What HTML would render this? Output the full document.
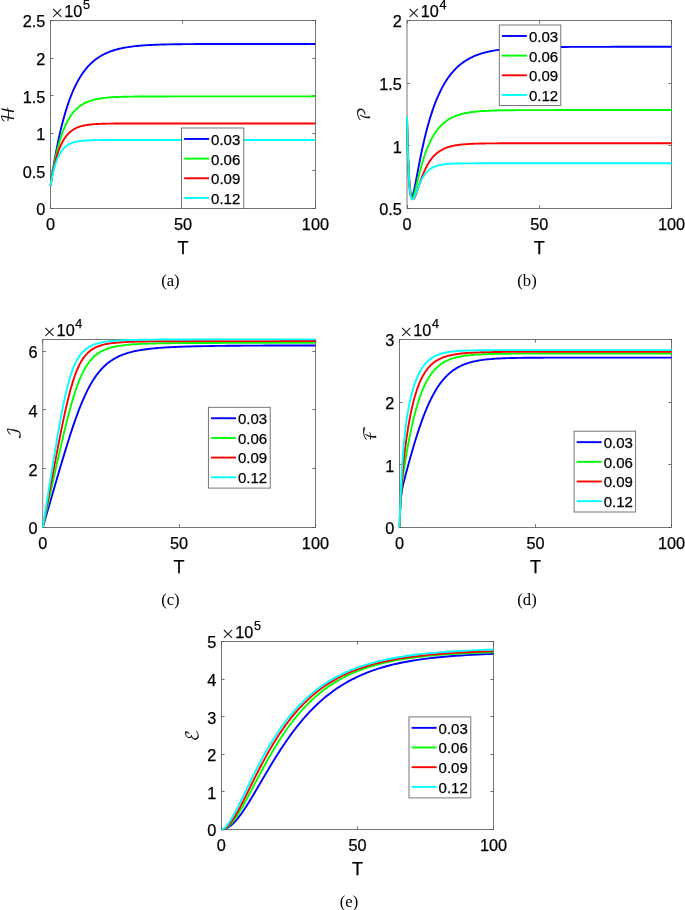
<!DOCTYPE html>
<html><head><meta charset="utf-8"><title>figure</title><style>
html,body{margin:0;padding:0;background:#fff;}
svg{display:block}
.box{fill:none;stroke:#555;stroke-width:0.8}
.tk{fill:none;stroke:#555;stroke-width:0.8}
.cv path{fill:none;stroke-width:1.9;stroke-linejoin:round}
.t{font-family:"Liberation Sans",sans-serif;font-size:16.3px;fill:#000;stroke:#000;stroke-width:0.25px}
.l{font-family:"Liberation Sans",sans-serif;font-size:18px;fill:#000;stroke:#000;stroke-width:0.25px}
.yl{font-family:"DejaVu Math TeX Gyre","DejaVu Sans",serif;font-size:17px;fill:#111}
.cap{font-family:"Liberation Serif",serif;font-size:16.6px;fill:#000}
.lg{fill:#fff;stroke:#686868;stroke-width:0.9}
.lt{font-family:"Liberation Sans",sans-serif;font-size:15px;fill:#000;stroke:#000;stroke-width:0.25px}
.tm{font-family:"Liberation Serif",serif;font-size:22px;fill:#222;stroke:none}
.ll{fill:none;stroke-width:1.9}
</style></head><body>
<svg width="685" height="910" viewBox="0 0 685 910">
<rect width="685" height="910" fill="#fff"/>
<g class="ax" id="ax-a">
<clipPath id="cp-a"><rect x="49.5" y="19.0" width="266.95" height="190.9"/></clipPath>
<rect class="box" x="50.5" y="20.5" width="264.95" height="187.9"/>
<path class="tk" d="M50.5,208.4v-3.2M50.5,20.5v3.2M182.5,208.4v-3.2M182.5,20.5v3.2M315.5,208.4v-3.2M315.5,20.5v3.2M50.5,208.5h3.2M315.45,208.5h-3.2M50.5,170.5h3.2M315.45,170.5h-3.2M50.5,133.5h3.2M315.45,133.5h-3.2M50.5,95.5h3.2M315.45,95.5h-3.2M50.5,58.5h3.2M315.45,58.5h-3.2M50.5,20.5h3.2M315.45,20.5h-3.2"/>
<g clip-path="url(#cp-a)" class="cv">
<path stroke="#0000ff" d="M50.5,185.85 L50.76,184.02 L51.03,182.21 L51.29,180.42 L51.56,178.66 L51.82,176.92 L52.09,175.2 L52.35,173.51 L52.62,171.84 L52.88,170.18 L53.15,168.55 L53.41,166.94 L53.68,165.36 L53.94,163.79 L54.21,162.24 L54.47,160.71 L54.74,159.2 L55,157.72 L55.27,156.25 L55.53,154.8 L55.8,153.36 L56.06,151.95 L56.33,150.56 L56.59,149.18 L56.86,147.82 L57.12,146.48 L57.39,145.15 L57.65,143.85 L57.92,142.56 L58.18,141.28 L58.45,140.03 L58.71,138.78 L58.98,137.56 L59.24,136.35 L59.51,135.16 L59.77,133.98 L60.04,132.82 L60.3,131.67 L60.57,130.54 L60.83,129.42 L61.1,128.31 L61.76,125.62 L62.42,123 L63.09,120.48 L63.75,118.03 L64.41,115.66 L65.07,113.37 L65.73,111.15 L66.4,109 L67.06,106.92 L67.72,104.91 L68.38,102.96 L69.05,101.07 L69.71,99.24 L70.37,97.47 L71.03,95.76 L71.7,94.11 L72.36,92.5 L73.02,90.95 L73.68,89.45 L74.35,87.99 L75.01,86.58 L75.67,85.22 L76.33,83.9 L77,82.62 L77.66,81.39 L78.32,80.19 L78.98,79.03 L79.64,77.91 L80.31,76.82 L80.97,75.77 L81.63,74.75 L82.29,73.77 L82.96,72.82 L83.62,71.89 L84.28,71 L84.94,70.13 L85.61,69.3 L86.27,68.49 L86.93,67.7 L87.59,66.94 L88.26,66.21 L88.92,65.49 L89.58,64.81 L90.24,64.14 L90.9,63.49 L91.57,62.87 L92.23,62.26 L92.89,61.68 L93.55,61.11 L94.22,60.56 L94.88,60.03 L95.54,59.52 L96.2,59.02 L96.87,58.54 L97.53,58.07 L98.19,57.62 L98.85,57.18 L99.52,56.76 L100.18,56.35 L100.84,55.95 L101.5,55.57 L102.17,55.2 L102.83,54.84 L103.49,54.49 L105.26,53.61 L107.02,52.81 L108.79,52.08 L110.56,51.4 L112.32,50.78 L114.09,50.22 L115.85,49.7 L117.62,49.22 L119.39,48.78 L121.15,48.38 L122.92,48.01 L124.69,47.68 L126.45,47.37 L128.22,47.08 L129.99,46.82 L131.75,46.58 L133.52,46.37 L135.28,46.16 L137.05,45.98 L138.82,45.81 L140.58,45.66 L142.35,45.52 L144.12,45.39 L145.88,45.27 L147.65,45.16 L149.41,45.06 L151.18,44.97 L152.95,44.88 L154.71,44.8 L156.48,44.73 L158.25,44.67 L160.01,44.61 L161.78,44.55 L163.55,44.5 L165.31,44.46 L167.08,44.42 L168.84,44.38 L170.61,44.34 L172.38,44.31 L174.14,44.28 L175.91,44.25 L177.68,44.23 L179.44,44.2 L181.21,44.18 L182.97,44.16 L184.74,44.15 L186.51,44.13 L188.27,44.11 L190.04,44.1 L191.81,44.09 L193.57,44.08 L195.34,44.07 L197.11,44.06 L198.87,44.05 L200.64,44.04 L202.4,44.03 L204.17,44.03 L205.94,44.02 L207.7,44.01 L209.47,44.01 L214.77,43.99 L220.07,43.98 L225.37,43.98 L230.67,43.97 L235.97,43.97 L241.26,43.96 L246.56,43.96 L251.86,43.96 L257.16,43.96 L262.46,43.95 L267.76,43.95 L273.06,43.95 L278.36,43.95 L283.66,43.95 L288.96,43.95 L294.25,43.95 L299.55,43.95 L304.85,43.95 L310.15,43.95 L315.45,43.95"/>
<path stroke="#00ff00" d="M50.5,185.85 L50.76,184.08 L51.03,182.34 L51.29,180.64 L51.56,178.98 L51.82,177.34 L52.09,175.74 L52.35,174.17 L52.62,172.63 L52.88,171.12 L53.15,169.64 L53.41,168.19 L53.68,166.77 L53.94,165.37 L54.21,164.01 L54.47,162.67 L54.74,161.36 L55,160.07 L55.27,158.81 L55.53,157.58 L55.8,156.37 L56.06,155.18 L56.33,154.01 L56.59,152.87 L56.86,151.76 L57.12,150.66 L57.39,149.59 L57.65,148.53 L57.92,147.5 L58.18,146.49 L58.45,145.5 L58.71,144.53 L58.98,143.57 L59.24,142.64 L59.51,141.72 L59.77,140.83 L60.04,139.95 L60.3,139.08 L60.57,138.24 L60.83,137.41 L61.1,136.6 L61.76,134.64 L62.42,132.78 L63.09,131 L63.75,129.31 L64.41,127.71 L65.07,126.18 L65.73,124.73 L66.4,123.35 L67.06,122.04 L67.72,120.79 L68.38,119.6 L69.05,118.47 L69.71,117.39 L70.37,116.37 L71.03,115.4 L71.7,114.47 L72.36,113.59 L73.02,112.75 L73.68,111.95 L74.35,111.2 L75.01,110.47 L75.67,109.79 L76.33,109.14 L77,108.52 L77.66,107.93 L78.32,107.36 L78.98,106.83 L79.64,106.32 L80.31,105.84 L80.97,105.38 L81.63,104.94 L82.29,104.53 L82.96,104.13 L83.62,103.75 L84.28,103.4 L84.94,103.05 L85.61,102.73 L86.27,102.42 L86.93,102.13 L87.59,101.85 L88.26,101.59 L88.92,101.33 L89.58,101.09 L90.24,100.86 L90.9,100.65 L91.57,100.44 L92.23,100.24 L92.89,100.06 L93.55,99.88 L94.22,99.71 L94.88,99.55 L95.54,99.4 L96.2,99.25 L96.87,99.11 L97.53,98.98 L98.19,98.86 L98.85,98.74 L99.52,98.62 L100.18,98.52 L100.84,98.41 L101.5,98.31 L102.17,98.22 L102.83,98.13 L103.49,98.05 L105.26,97.85 L107.02,97.67 L108.79,97.51 L110.56,97.37 L112.32,97.25 L114.09,97.15 L115.85,97.06 L117.62,96.98 L119.39,96.91 L121.15,96.84 L122.92,96.79 L124.69,96.74 L126.45,96.7 L128.22,96.66 L129.99,96.63 L131.75,96.61 L133.52,96.58 L135.28,96.56 L137.05,96.54 L138.82,96.53 L140.58,96.51 L142.35,96.5 L144.12,96.49 L145.88,96.48 L147.65,96.47 L149.41,96.46 L151.18,96.46 L152.95,96.45 L154.71,96.45 L156.48,96.44 L158.25,96.44 L160.01,96.43 L161.78,96.43 L163.55,96.43 L165.31,96.43 L167.08,96.43 L168.84,96.42 L170.61,96.42 L172.38,96.42 L174.14,96.42 L175.91,96.42 L177.68,96.42 L179.44,96.42 L181.21,96.42 L182.97,96.42 L184.74,96.42 L186.51,96.41 L188.27,96.41 L190.04,96.41 L191.81,96.41 L193.57,96.41 L195.34,96.41 L197.11,96.41 L198.87,96.41 L200.64,96.41 L202.4,96.41 L204.17,96.41 L205.94,96.41 L207.7,96.41 L209.47,96.41 L214.77,96.41 L220.07,96.41 L225.37,96.41 L230.67,96.41 L235.97,96.41 L241.26,96.41 L246.56,96.41 L251.86,96.41 L257.16,96.41 L262.46,96.41 L267.76,96.41 L273.06,96.41 L278.36,96.41 L283.66,96.41 L288.96,96.41 L294.25,96.41 L299.55,96.41 L304.85,96.41 L310.15,96.41 L315.45,96.41"/>
<path stroke="#ff0000" d="M50.5,185.85 L50.76,184.19 L51.03,182.57 L51.29,181 L51.56,179.47 L51.82,177.97 L52.09,176.52 L52.35,175.11 L52.62,173.73 L52.88,172.39 L53.15,171.09 L53.41,169.82 L53.68,168.59 L53.94,167.39 L54.21,166.22 L54.47,165.08 L54.74,163.97 L55,162.89 L55.27,161.84 L55.53,160.82 L55.8,159.82 L56.06,158.85 L56.33,157.91 L56.59,156.99 L56.86,156.1 L57.12,155.23 L57.39,154.39 L57.65,153.56 L57.92,152.76 L58.18,151.98 L58.45,151.22 L58.71,150.48 L58.98,149.76 L59.24,149.06 L59.51,148.38 L59.77,147.72 L60.04,147.07 L60.3,146.44 L60.57,145.83 L60.83,145.23 L61.1,144.65 L61.76,143.27 L62.42,141.98 L63.09,140.77 L63.75,139.64 L64.41,138.59 L65.07,137.6 L65.73,136.68 L66.4,135.81 L67.06,135.01 L67.72,134.26 L68.38,133.55 L69.05,132.89 L69.71,132.28 L70.37,131.7 L71.03,131.17 L71.7,130.66 L72.36,130.19 L73.02,129.75 L73.68,129.34 L74.35,128.96 L75.01,128.6 L75.67,128.27 L76.33,127.95 L77,127.66 L77.66,127.39 L78.32,127.13 L78.98,126.89 L79.64,126.67 L80.31,126.46 L80.97,126.27 L81.63,126.08 L82.29,125.91 L82.96,125.75 L83.62,125.6 L84.28,125.46 L84.94,125.33 L85.61,125.21 L86.27,125.1 L86.93,124.99 L87.59,124.89 L88.26,124.8 L88.92,124.71 L89.58,124.63 L90.24,124.56 L90.9,124.49 L91.57,124.42 L92.23,124.36 L92.89,124.3 L93.55,124.24 L94.22,124.19 L94.88,124.15 L95.54,124.1 L96.2,124.06 L96.87,124.02 L97.53,123.99 L98.19,123.95 L98.85,123.92 L99.52,123.89 L100.18,123.86 L100.84,123.84 L101.5,123.81 L102.17,123.79 L102.83,123.77 L103.49,123.75 L105.26,123.7 L107.02,123.67 L108.79,123.63 L110.56,123.61 L112.32,123.58 L114.09,123.56 L115.85,123.55 L117.62,123.54 L119.39,123.52 L121.15,123.52 L122.92,123.51 L124.69,123.5 L126.45,123.5 L128.22,123.49 L129.99,123.49 L131.75,123.49 L133.52,123.48 L135.28,123.48 L137.05,123.48 L138.82,123.48 L140.58,123.48 L142.35,123.47 L144.12,123.47 L145.88,123.47 L147.65,123.47 L149.41,123.47 L151.18,123.47 L152.95,123.47 L154.71,123.47 L156.48,123.47 L158.25,123.47 L160.01,123.47 L161.78,123.47 L163.55,123.47 L165.31,123.47 L167.08,123.47 L168.84,123.47 L170.61,123.47 L172.38,123.47 L174.14,123.47 L175.91,123.47 L177.68,123.47 L179.44,123.47 L181.21,123.47 L182.97,123.47 L184.74,123.47 L186.51,123.47 L188.27,123.47 L190.04,123.47 L191.81,123.47 L193.57,123.47 L195.34,123.47 L197.11,123.47 L198.87,123.47 L200.64,123.47 L202.4,123.47 L204.17,123.47 L205.94,123.47 L207.7,123.47 L209.47,123.47 L214.77,123.47 L220.07,123.47 L225.37,123.47 L230.67,123.47 L235.97,123.47 L241.26,123.47 L246.56,123.47 L251.86,123.47 L257.16,123.47 L262.46,123.47 L267.76,123.47 L273.06,123.47 L278.36,123.47 L283.66,123.47 L288.96,123.47 L294.25,123.47 L299.55,123.47 L304.85,123.47 L310.15,123.47 L315.45,123.47"/>
<path stroke="#00ffff" d="M50.5,185.85 L50.76,184.32 L51.03,182.84 L51.29,181.41 L51.56,180.02 L51.82,178.68 L52.09,177.39 L52.35,176.14 L52.62,174.93 L52.88,173.77 L53.15,172.64 L53.41,171.55 L53.68,170.49 L53.94,169.47 L54.21,168.49 L54.47,167.54 L54.74,166.62 L55,165.73 L55.27,164.87 L55.53,164.03 L55.8,163.23 L56.06,162.46 L56.33,161.7 L56.59,160.98 L56.86,160.28 L57.12,159.6 L57.39,158.95 L57.65,158.31 L57.92,157.7 L58.18,157.11 L58.45,156.54 L58.71,155.98 L58.98,155.45 L59.24,154.93 L59.51,154.43 L59.77,153.95 L60.04,153.49 L60.3,153.04 L60.57,152.6 L60.83,152.18 L61.1,151.77 L61.76,150.81 L62.42,149.93 L63.09,149.12 L63.75,148.38 L64.41,147.7 L65.07,147.07 L65.73,146.49 L66.4,145.97 L67.06,145.48 L67.72,145.03 L68.38,144.62 L69.05,144.25 L69.71,143.9 L70.37,143.58 L71.03,143.29 L71.7,143.02 L72.36,142.78 L73.02,142.55 L73.68,142.34 L74.35,142.15 L75.01,141.98 L75.67,141.82 L76.33,141.67 L77,141.53 L77.66,141.41 L78.32,141.3 L78.98,141.19 L79.64,141.09 L80.31,141 L80.97,140.92 L81.63,140.85 L82.29,140.78 L82.96,140.72 L83.62,140.66 L84.28,140.61 L84.94,140.56 L85.61,140.51 L86.27,140.47 L86.93,140.43 L87.59,140.4 L88.26,140.37 L88.92,140.34 L89.58,140.31 L90.24,140.28 L90.9,140.26 L91.57,140.24 L92.23,140.22 L92.89,140.2 L93.55,140.19 L94.22,140.17 L94.88,140.16 L95.54,140.15 L96.2,140.13 L96.87,140.12 L97.53,140.11 L98.19,140.11 L98.85,140.1 L99.52,140.09 L100.18,140.08 L100.84,140.08 L101.5,140.07 L102.17,140.06 L102.83,140.06 L103.49,140.06 L105.26,140.05 L107.02,140.04 L108.79,140.03 L110.56,140.03 L112.32,140.02 L114.09,140.02 L115.85,140.01 L117.62,140.01 L119.39,140.01 L121.15,140.01 L122.92,140.01 L124.69,140.01 L126.45,140.01 L128.22,140.01 L129.99,140.01 L131.75,140.01 L133.52,140.01 L135.28,140.01 L137.05,140.01 L138.82,140 L140.58,140 L142.35,140 L144.12,140 L145.88,140 L147.65,140 L149.41,140 L151.18,140 L152.95,140 L154.71,140 L156.48,140 L158.25,140 L160.01,140 L161.78,140 L163.55,140 L165.31,140 L167.08,140 L168.84,140 L170.61,140 L172.38,140 L174.14,140 L175.91,140 L177.68,140 L179.44,140 L181.21,140 L182.97,140 L184.74,140 L186.51,140 L188.27,140 L190.04,140 L191.81,140 L193.57,140 L195.34,140 L197.11,140 L198.87,140 L200.64,140 L202.4,140 L204.17,140 L205.94,140 L207.7,140 L209.47,140 L214.77,140 L220.07,140 L225.37,140 L230.67,140 L235.97,140 L241.26,140 L246.56,140 L251.86,140 L257.16,140 L262.46,140 L267.76,140 L273.06,140 L278.36,140 L283.66,140 L288.96,140 L294.25,140 L299.55,140 L304.85,140 L310.15,140 L315.45,140"/>
</g>
<text class="t" x="50.5" y="230.2" text-anchor="middle">0</text>
<text class="t" x="182.97" y="230.2" text-anchor="middle">50</text>
<text class="t" x="315.45" y="230.2" text-anchor="middle">100</text>
<text class="t" x="45.3" y="215.3" text-anchor="end">0</text>
<text class="t" x="45.3" y="177.72" text-anchor="end">0.5</text>
<text class="t" x="45.3" y="140.14" text-anchor="end">1</text>
<text class="t" x="45.3" y="102.56" text-anchor="end">1.5</text>
<text class="t" x="45.3" y="64.98" text-anchor="end">2</text>
<text class="t" x="45.3" y="27.4" text-anchor="end">2.5</text>
<text class="t" y="17.2"><tspan class="tm" x="50.9" dy="2.6">×</tspan><tspan x="64.3" dy="-2.6">10</tspan><tspan x="83" dy="-8.6" font-size="12.6">5</tspan></text>
<text class="l" x="182.97" y="254" text-anchor="middle">T</text>
<text class="yl" transform="translate(13.7,114.45) rotate(-90)" text-anchor="middle">ℋ</text>
<rect class="lg" x="181.5" y="128" width="62.3" height="80.5"/>
<path class="ll" stroke="#0000ff" d="M184.1,138.95h25"/>
<text class="lt" x="211.1" y="144.85">0.03</text>
<path class="ll" stroke="#00ff00" d="M184.1,158.62h25"/>
<text class="lt" x="211.1" y="164.52">0.06</text>
<path class="ll" stroke="#ff0000" d="M184.1,178.29h25"/>
<text class="lt" x="211.1" y="184.19">0.09</text>
<path class="ll" stroke="#00ffff" d="M184.1,197.96h25"/>
<text class="lt" x="211.1" y="203.86">0.12</text>
<text class="cap" x="170.4" y="286.2" text-anchor="middle">(a)</text>
</g>
<g class="ax" id="ax-b">
<clipPath id="cp-b"><rect x="406.0" y="19.0" width="266.54999999999995" height="190.9"/></clipPath>
<rect class="box" x="407.0" y="20.5" width="264.54999999999995" height="187.9"/>
<path class="tk" d="M407.5,208.4v-3.2M407.5,20.5v3.2M539.5,208.4v-3.2M539.5,20.5v3.2M671.5,208.4v-3.2M671.5,20.5v3.2M407.0,208.5h3.2M671.55,208.5h-3.2M407.0,145.5h3.2M671.55,145.5h-3.2M407.0,83.5h3.2M671.55,83.5h-3.2M407.0,20.5h3.2M671.55,20.5h-3.2"/>
<g clip-path="url(#cp-b)" class="cv">
<path stroke="#0000ff" d="M407,116.96 L407.26,129.91 L407.53,141.15 L407.79,150.85 L408.06,159.2 L408.32,166.36 L408.59,172.47 L408.85,177.64 L409.12,181.99 L409.38,185.61 L409.65,188.59 L409.91,191 L410.17,192.92 L410.44,194.39 L410.7,195.48 L410.97,196.23 L411.23,196.68 L411.5,196.87 L411.76,196.82 L412.03,196.58 L412.29,196.16 L412.56,195.59 L412.82,194.88 L413.08,194.06 L413.35,193.14 L413.61,192.13 L413.88,191.04 L414.14,189.9 L414.41,188.69 L414.67,187.45 L414.94,186.16 L415.2,184.84 L415.47,183.5 L415.73,182.14 L415.99,180.75 L416.26,179.36 L416.52,177.96 L416.79,176.55 L417.05,175.14 L417.32,173.72 L417.58,172.31 L418.24,168.8 L418.9,165.33 L419.57,161.91 L420.23,158.56 L420.89,155.28 L421.55,152.08 L422.21,148.97 L422.87,145.93 L423.53,142.98 L424.2,140.11 L424.86,137.33 L425.52,134.62 L426.18,132 L426.84,129.45 L427.5,126.97 L428.16,124.57 L428.83,122.24 L429.49,119.98 L430.15,117.79 L430.81,115.66 L431.47,113.59 L432.13,111.59 L432.79,109.65 L433.45,107.76 L434.12,105.94 L434.78,104.16 L435.44,102.44 L436.1,100.77 L436.76,99.15 L437.42,97.58 L438.08,96.06 L438.75,94.58 L439.41,93.15 L440.07,91.76 L440.73,90.41 L441.39,89.11 L442.05,87.84 L442.71,86.61 L443.38,85.41 L444.04,84.26 L444.7,83.13 L445.36,82.04 L446.02,80.99 L446.68,79.96 L447.34,78.97 L448.01,78 L448.67,77.07 L449.33,76.16 L449.99,75.28 L450.65,74.42 L451.31,73.6 L451.97,72.79 L452.63,72.01 L453.3,71.26 L453.96,70.52 L454.62,69.81 L455.28,69.12 L455.94,68.45 L456.6,67.8 L457.26,67.17 L457.93,66.56 L458.59,65.97 L459.25,65.4 L459.91,64.84 L461.67,63.43 L463.44,62.14 L465.2,60.94 L466.96,59.84 L468.73,58.82 L470.49,57.88 L472.26,57.02 L474.02,56.22 L475.78,55.49 L477.55,54.81 L479.31,54.19 L481.07,53.61 L482.84,53.08 L484.6,52.59 L486.37,52.14 L488.13,51.72 L489.89,51.34 L491.66,50.99 L493.42,50.66 L495.18,50.36 L496.95,50.08 L498.71,49.83 L500.47,49.59 L502.24,49.37 L504,49.17 L505.77,48.99 L507.53,48.82 L509.29,48.66 L511.06,48.52 L512.82,48.38 L514.58,48.26 L516.35,48.15 L518.11,48.04 L519.87,47.95 L521.64,47.86 L523.4,47.78 L525.17,47.7 L526.93,47.63 L528.69,47.57 L530.46,47.51 L532.22,47.45 L533.98,47.4 L535.75,47.36 L537.51,47.31 L539.27,47.27 L541.04,47.24 L542.8,47.2 L544.57,47.17 L546.33,47.14 L548.09,47.12 L549.86,47.09 L551.62,47.07 L553.38,47.05 L555.15,47.03 L556.91,47.01 L558.68,47 L560.44,46.98 L562.2,46.97 L563.97,46.96 L565.73,46.94 L571.02,46.91 L576.31,46.89 L581.6,46.87 L586.89,46.86 L592.18,46.85 L597.48,46.84 L602.77,46.83 L608.06,46.83 L613.35,46.82 L618.64,46.82 L623.93,46.82 L629.22,46.81 L634.51,46.81 L639.8,46.81 L645.1,46.81 L650.39,46.81 L655.68,46.81 L660.97,46.81 L666.26,46.81 L671.55,46.81"/>
<path stroke="#00ff00" d="M407,116.96 L407.26,129.2 L407.53,139.92 L407.79,149.27 L408.06,157.4 L408.32,164.46 L408.59,170.55 L408.85,175.78 L409.12,180.26 L409.38,184.06 L409.65,187.26 L409.91,189.92 L410.17,192.11 L410.44,193.89 L410.7,195.29 L410.97,196.36 L411.23,197.15 L411.5,197.67 L411.76,197.97 L412.03,198.08 L412.29,198 L412.56,197.78 L412.82,197.42 L413.08,196.94 L413.35,196.36 L413.61,195.7 L413.88,194.95 L414.14,194.14 L414.41,193.28 L414.67,192.36 L414.94,191.41 L415.2,190.42 L415.47,189.41 L415.73,188.37 L415.99,187.32 L416.26,186.25 L416.52,185.17 L416.79,184.09 L417.05,183 L417.32,181.91 L417.58,180.82 L418.24,178.11 L418.9,175.44 L419.57,172.83 L420.23,170.29 L420.89,167.82 L421.55,165.44 L422.21,163.13 L422.87,160.91 L423.53,158.78 L424.2,156.73 L424.86,154.76 L425.52,152.87 L426.18,151.05 L426.84,149.31 L427.5,147.65 L428.16,146.05 L428.83,144.52 L429.49,143.05 L430.15,141.65 L430.81,140.31 L431.47,139.02 L432.13,137.78 L432.79,136.6 L433.45,135.47 L434.12,134.39 L434.78,133.36 L435.44,132.36 L436.1,131.41 L436.76,130.5 L437.42,129.63 L438.08,128.8 L438.75,128 L439.41,127.24 L440.07,126.5 L440.73,125.8 L441.39,125.13 L442.05,124.49 L442.71,123.88 L443.38,123.29 L444.04,122.72 L444.7,122.18 L445.36,121.67 L446.02,121.17 L446.68,120.7 L447.34,120.25 L448.01,119.81 L448.67,119.4 L449.33,119 L449.99,118.62 L450.65,118.26 L451.31,117.91 L451.97,117.57 L452.63,117.25 L453.3,116.95 L453.96,116.65 L454.62,116.37 L455.28,116.1 L455.94,115.85 L456.6,115.6 L457.26,115.36 L457.93,115.14 L458.59,114.92 L459.25,114.71 L459.91,114.52 L461.67,114.03 L463.44,113.59 L465.2,113.21 L466.96,112.86 L468.73,112.56 L470.49,112.28 L472.26,112.04 L474.02,111.82 L475.78,111.63 L477.55,111.46 L479.31,111.31 L481.07,111.17 L482.84,111.05 L484.6,110.94 L486.37,110.85 L488.13,110.76 L489.89,110.68 L491.66,110.62 L493.42,110.56 L495.18,110.5 L496.95,110.45 L498.71,110.41 L500.47,110.37 L502.24,110.34 L504,110.31 L505.77,110.28 L507.53,110.26 L509.29,110.24 L511.06,110.22 L512.82,110.2 L514.58,110.19 L516.35,110.17 L518.11,110.16 L519.87,110.15 L521.64,110.14 L523.4,110.13 L525.17,110.13 L526.93,110.12 L528.69,110.11 L530.46,110.11 L532.22,110.1 L533.98,110.1 L535.75,110.1 L537.51,110.09 L539.27,110.09 L541.04,110.09 L542.8,110.08 L544.57,110.08 L546.33,110.08 L548.09,110.08 L549.86,110.08 L551.62,110.08 L553.38,110.08 L555.15,110.07 L556.91,110.07 L558.68,110.07 L560.44,110.07 L562.2,110.07 L563.97,110.07 L565.73,110.07 L571.02,110.07 L576.31,110.07 L581.6,110.07 L586.89,110.07 L592.18,110.07 L597.48,110.07 L602.77,110.07 L608.06,110.07 L613.35,110.07 L618.64,110.07 L623.93,110.07 L629.22,110.07 L634.51,110.07 L639.8,110.07 L645.1,110.07 L650.39,110.07 L655.68,110.07 L660.97,110.07 L666.26,110.07 L671.55,110.07"/>
<path stroke="#ff0000" d="M407,116.96 L407.26,127.73 L407.53,137.33 L407.79,145.87 L408.06,153.46 L408.32,160.17 L408.59,166.1 L408.85,171.32 L409.12,175.91 L409.38,179.91 L409.65,183.4 L409.91,186.41 L410.17,189 L410.44,191.21 L410.7,193.08 L410.97,194.64 L411.23,195.92 L411.5,196.96 L411.76,197.77 L412.03,198.38 L412.29,198.81 L412.56,199.09 L412.82,199.22 L413.08,199.22 L413.35,199.11 L413.61,198.91 L413.88,198.61 L414.14,198.24 L414.41,197.8 L414.67,197.29 L414.94,196.74 L415.2,196.14 L415.47,195.51 L415.73,194.83 L415.99,194.14 L416.26,193.41 L416.52,192.67 L416.79,191.91 L417.05,191.14 L417.32,190.36 L417.58,189.58 L418.24,187.59 L418.9,185.61 L419.57,183.65 L420.23,181.73 L420.89,179.86 L421.55,178.05 L422.21,176.3 L422.87,174.63 L423.53,173.02 L424.2,171.49 L424.86,170.02 L425.52,168.63 L426.18,167.3 L426.84,166.03 L427.5,164.83 L428.16,163.69 L428.83,162.61 L429.49,161.58 L430.15,160.61 L430.81,159.69 L431.47,158.81 L432.13,157.99 L432.79,157.2 L433.45,156.46 L434.12,155.75 L434.78,155.09 L435.44,154.46 L436.1,153.86 L436.76,153.29 L437.42,152.76 L438.08,152.25 L438.75,151.77 L439.41,151.31 L440.07,150.88 L440.73,150.48 L441.39,150.09 L442.05,149.73 L442.71,149.38 L443.38,149.05 L444.04,148.74 L444.7,148.45 L445.36,148.17 L446.02,147.91 L446.68,147.66 L447.34,147.43 L448.01,147.2 L448.67,146.99 L449.33,146.79 L449.99,146.6 L450.65,146.43 L451.31,146.26 L451.97,146.1 L452.63,145.94 L453.3,145.8 L453.96,145.67 L454.62,145.54 L455.28,145.42 L455.94,145.3 L456.6,145.19 L457.26,145.09 L457.93,144.99 L458.59,144.9 L459.25,144.81 L459.91,144.73 L461.67,144.53 L463.44,144.36 L465.2,144.21 L466.96,144.08 L468.73,143.97 L470.49,143.87 L472.26,143.79 L474.02,143.72 L475.78,143.65 L477.55,143.6 L479.31,143.55 L481.07,143.51 L482.84,143.48 L484.6,143.45 L486.37,143.42 L488.13,143.4 L489.89,143.38 L491.66,143.37 L493.42,143.35 L495.18,143.34 L496.95,143.33 L498.71,143.32 L500.47,143.31 L502.24,143.3 L504,143.3 L505.77,143.29 L507.53,143.29 L509.29,143.29 L511.06,143.28 L512.82,143.28 L514.58,143.28 L516.35,143.27 L518.11,143.27 L519.87,143.27 L521.64,143.27 L523.4,143.27 L525.17,143.27 L526.93,143.27 L528.69,143.27 L530.46,143.27 L532.22,143.26 L533.98,143.26 L535.75,143.26 L537.51,143.26 L539.27,143.26 L541.04,143.26 L542.8,143.26 L544.57,143.26 L546.33,143.26 L548.09,143.26 L549.86,143.26 L551.62,143.26 L553.38,143.26 L555.15,143.26 L556.91,143.26 L558.68,143.26 L560.44,143.26 L562.2,143.26 L563.97,143.26 L565.73,143.26 L571.02,143.26 L576.31,143.26 L581.6,143.26 L586.89,143.26 L592.18,143.26 L597.48,143.26 L602.77,143.26 L608.06,143.26 L613.35,143.26 L618.64,143.26 L623.93,143.26 L629.22,143.26 L634.51,143.26 L639.8,143.26 L645.1,143.26 L650.39,143.26 L655.68,143.26 L660.97,143.26 L666.26,143.26 L671.55,143.26"/>
<path stroke="#00ffff" d="M407,116.96 L407.26,128.83 L407.53,139.26 L407.79,148.41 L408.06,156.41 L408.32,163.39 L408.59,169.46 L408.85,174.71 L409.12,179.24 L409.38,183.13 L409.65,186.44 L409.91,189.25 L410.17,191.6 L410.44,193.55 L410.7,195.14 L410.97,196.43 L411.23,197.43 L411.5,198.2 L411.76,198.74 L412.03,199.1 L412.29,199.3 L412.56,199.35 L412.82,199.27 L413.08,199.09 L413.35,198.81 L413.61,198.46 L413.88,198.03 L414.14,197.54 L414.41,197.01 L414.67,196.43 L414.94,195.82 L415.2,195.18 L415.47,194.53 L415.73,193.85 L415.99,193.16 L416.26,192.47 L416.52,191.76 L416.79,191.06 L417.05,190.36 L417.32,189.66 L417.58,188.96 L418.24,187.25 L418.9,185.6 L419.57,184.03 L420.23,182.53 L420.89,181.12 L421.55,179.8 L422.21,178.56 L422.87,177.4 L423.53,176.32 L424.2,175.32 L424.86,174.39 L425.52,173.53 L426.18,172.73 L426.84,172 L427.5,171.32 L428.16,170.69 L428.83,170.11 L429.49,169.57 L430.15,169.08 L430.81,168.62 L431.47,168.21 L432.13,167.82 L432.79,167.46 L433.45,167.13 L434.12,166.83 L434.78,166.55 L435.44,166.3 L436.1,166.06 L436.76,165.84 L437.42,165.64 L438.08,165.46 L438.75,165.29 L439.41,165.13 L440.07,164.98 L440.73,164.85 L441.39,164.73 L442.05,164.62 L442.71,164.51 L443.38,164.42 L444.04,164.33 L444.7,164.25 L445.36,164.17 L446.02,164.1 L446.68,164.04 L447.34,163.98 L448.01,163.93 L448.67,163.88 L449.33,163.83 L449.99,163.79 L450.65,163.75 L451.31,163.72 L451.97,163.69 L452.63,163.65 L453.3,163.63 L453.96,163.6 L454.62,163.58 L455.28,163.56 L455.94,163.54 L456.6,163.52 L457.26,163.5 L457.93,163.49 L458.59,163.47 L459.25,163.46 L459.91,163.45 L461.67,163.42 L463.44,163.4 L465.2,163.38 L466.96,163.36 L468.73,163.35 L470.49,163.34 L472.26,163.33 L474.02,163.33 L475.78,163.32 L477.55,163.32 L479.31,163.32 L481.07,163.31 L482.84,163.31 L484.6,163.31 L486.37,163.31 L488.13,163.31 L489.89,163.31 L491.66,163.31 L493.42,163.31 L495.18,163.31 L496.95,163.31 L498.71,163.31 L500.47,163.3 L502.24,163.3 L504,163.3 L505.77,163.3 L507.53,163.3 L509.29,163.3 L511.06,163.3 L512.82,163.3 L514.58,163.3 L516.35,163.3 L518.11,163.3 L519.87,163.3 L521.64,163.3 L523.4,163.3 L525.17,163.3 L526.93,163.3 L528.69,163.3 L530.46,163.3 L532.22,163.3 L533.98,163.3 L535.75,163.3 L537.51,163.3 L539.27,163.3 L541.04,163.3 L542.8,163.3 L544.57,163.3 L546.33,163.3 L548.09,163.3 L549.86,163.3 L551.62,163.3 L553.38,163.3 L555.15,163.3 L556.91,163.3 L558.68,163.3 L560.44,163.3 L562.2,163.3 L563.97,163.3 L565.73,163.3 L571.02,163.3 L576.31,163.3 L581.6,163.3 L586.89,163.3 L592.18,163.3 L597.48,163.3 L602.77,163.3 L608.06,163.3 L613.35,163.3 L618.64,163.3 L623.93,163.3 L629.22,163.3 L634.51,163.3 L639.8,163.3 L645.1,163.3 L650.39,163.3 L655.68,163.3 L660.97,163.3 L666.26,163.3 L671.55,163.3"/>
</g>
<text class="t" x="407" y="230.2" text-anchor="middle">0</text>
<text class="t" x="539.27" y="230.2" text-anchor="middle">50</text>
<text class="t" x="671.55" y="230.2" text-anchor="middle">100</text>
<text class="t" x="401.8" y="215.3" text-anchor="end">0.5</text>
<text class="t" x="401.8" y="152.67" text-anchor="end">1</text>
<text class="t" x="401.8" y="90.03" text-anchor="end">1.5</text>
<text class="t" x="401.8" y="27.4" text-anchor="end">2</text>
<text class="t" y="17.2"><tspan class="tm" x="407.4" dy="2.6">×</tspan><tspan x="420.8" dy="-2.6">10</tspan><tspan x="439.5" dy="-8.6" font-size="12.6">4</tspan></text>
<text class="l" x="539.27" y="254" text-anchor="middle">T</text>
<text class="yl" transform="translate(370,114.45) rotate(-90)" text-anchor="middle">𝒫</text>
<rect class="lg" x="499.3" y="25" width="61.5" height="80.5"/>
<path class="ll" stroke="#0000ff" d="M501.9,35.95h25"/>
<text class="lt" x="528.9" y="41.85">0.03</text>
<path class="ll" stroke="#00ff00" d="M501.9,55.62h25"/>
<text class="lt" x="528.9" y="61.52">0.06</text>
<path class="ll" stroke="#ff0000" d="M501.9,75.29h25"/>
<text class="lt" x="528.9" y="81.19">0.09</text>
<path class="ll" stroke="#00ffff" d="M501.9,94.96h25"/>
<text class="lt" x="528.9" y="100.86">0.12</text>
<text class="cap" x="527" y="286.2" text-anchor="middle">(b)</text>
</g>
<g class="ax" id="ax-c">
<clipPath id="cp-c"><rect x="41.8" y="337.95" width="274.65" height="190.95"/></clipPath>
<rect class="box" x="42.8" y="339.45" width="272.65" height="187.95"/>
<path class="tk" d="M42.5,527.4v-3.2M42.5,339.45v3.2M179.5,527.4v-3.2M179.5,339.45v3.2M315.5,527.4v-3.2M315.5,339.45v3.2M42.8,527.5h3.2M315.45,527.5h-3.2M42.8,468.5h3.2M315.45,468.5h-3.2M42.8,409.5h3.2M315.45,409.5h-3.2M42.8,351.5h3.2M315.45,351.5h-3.2"/>
<g clip-path="url(#cp-c)" class="cv">
<path stroke="#0000ff" d="M42.8,527.4 L43.07,526.46 L43.35,525.52 L43.62,524.58 L43.89,523.63 L44.16,522.69 L44.44,521.75 L44.71,520.81 L44.98,519.87 L45.25,518.93 L45.53,517.99 L45.8,517.05 L46.07,516.1 L46.34,515.16 L46.62,514.22 L46.89,513.28 L47.16,512.34 L47.44,511.4 L47.71,510.46 L47.98,509.52 L48.25,508.57 L48.53,507.63 L48.8,506.69 L49.07,505.75 L49.34,504.81 L49.62,503.87 L49.89,502.93 L50.16,501.99 L50.43,501.05 L50.71,500.11 L50.98,499.17 L51.25,498.23 L51.52,497.29 L51.8,496.35 L52.07,495.41 L52.34,494.47 L52.62,493.53 L52.89,492.59 L53.16,491.65 L53.43,490.72 L53.71,489.78 L54.39,487.43 L55.07,485.09 L55.75,482.75 L56.43,480.42 L57.11,478.09 L57.8,475.76 L58.48,473.44 L59.16,471.12 L59.84,468.81 L60.52,466.51 L61.2,464.21 L61.89,461.92 L62.57,459.64 L63.25,457.37 L63.93,455.11 L64.61,452.86 L65.29,450.63 L65.98,448.4 L66.66,446.19 L67.34,444 L68.02,441.82 L68.7,439.66 L69.38,437.52 L70.06,435.39 L70.75,433.29 L71.43,431.2 L72.11,429.14 L72.79,427.1 L73.47,425.09 L74.15,423.1 L74.84,421.14 L75.52,419.2 L76.2,417.29 L76.88,415.41 L77.56,413.56 L78.24,411.74 L78.93,409.94 L79.61,408.18 L80.29,406.46 L80.97,404.76 L81.65,403.1 L82.33,401.47 L83.02,399.87 L83.7,398.31 L84.38,396.78 L85.06,395.28 L85.74,393.82 L86.42,392.4 L87.11,391 L87.79,389.65 L88.47,388.32 L89.15,387.03 L89.83,385.78 L90.51,384.55 L91.2,383.36 L91.88,382.2 L92.56,381.08 L93.24,379.99 L93.92,378.92 L94.6,377.89 L95.29,376.89 L95.97,375.92 L96.65,374.98 L97.33,374.07 L99.15,371.76 L100.97,369.65 L102.78,367.71 L104.6,365.94 L106.42,364.31 L108.24,362.82 L110.05,361.46 L111.87,360.22 L113.69,359.08 L115.51,358.04 L117.32,357.1 L119.14,356.23 L120.96,355.43 L122.78,354.71 L124.59,354.04 L126.41,353.43 L128.23,352.87 L130.05,352.36 L131.87,351.88 L133.68,351.45 L135.5,351.05 L137.32,350.68 L139.14,350.34 L140.95,350.02 L142.77,349.73 L144.59,349.46 L146.41,349.22 L148.22,348.99 L150.04,348.77 L151.86,348.57 L153.68,348.39 L155.5,348.22 L157.31,348.06 L159.13,347.91 L160.95,347.77 L162.77,347.64 L164.58,347.52 L166.4,347.4 L168.22,347.3 L170.04,347.2 L171.85,347.1 L173.67,347.02 L175.49,346.93 L177.31,346.86 L179.12,346.78 L180.94,346.72 L182.76,346.65 L184.58,346.59 L186.4,346.53 L188.21,346.48 L190.03,346.43 L191.85,346.38 L193.67,346.33 L195.48,346.29 L197.3,346.25 L199.12,346.21 L200.94,346.18 L202.75,346.14 L204.57,346.11 L206.39,346.08 L211.84,345.99 L217.3,345.92 L222.75,345.85 L228.2,345.8 L233.65,345.75 L239.11,345.71 L244.56,345.67 L250.01,345.64 L255.47,345.61 L260.92,345.59 L266.37,345.56 L271.83,345.54 L277.28,345.52 L282.73,345.51 L288.18,345.49 L293.64,345.48 L299.09,345.47 L304.54,345.46 L310,345.45 L315.45,345.44"/>
<path stroke="#00ff00" d="M42.8,527.4 L43.07,526.17 L43.35,524.93 L43.62,523.7 L43.89,522.47 L44.16,521.24 L44.44,520 L44.71,518.77 L44.98,517.54 L45.25,516.3 L45.53,515.07 L45.8,513.84 L46.07,512.6 L46.34,511.37 L46.62,510.14 L46.89,508.91 L47.16,507.67 L47.44,506.44 L47.71,505.21 L47.98,503.97 L48.25,502.74 L48.53,501.51 L48.8,500.28 L49.07,499.04 L49.34,497.81 L49.62,496.58 L49.89,495.35 L50.16,494.12 L50.43,492.88 L50.71,491.65 L50.98,490.42 L51.25,489.19 L51.52,487.96 L51.8,486.73 L52.07,485.5 L52.34,484.27 L52.62,483.04 L52.89,481.81 L53.16,480.58 L53.43,479.36 L53.71,478.13 L54.39,475.06 L55.07,472 L55.75,468.95 L56.43,465.9 L57.11,462.86 L57.8,459.83 L58.48,456.81 L59.16,453.8 L59.84,450.8 L60.52,447.82 L61.2,444.86 L61.89,441.92 L62.57,438.99 L63.25,436.1 L63.93,433.22 L64.61,430.38 L65.29,427.57 L65.98,424.79 L66.66,422.04 L67.34,419.34 L68.02,416.67 L68.7,414.05 L69.38,411.48 L70.06,408.95 L70.75,406.48 L71.43,404.05 L72.11,401.68 L72.79,399.37 L73.47,397.11 L74.15,394.92 L74.84,392.79 L75.52,390.71 L76.2,388.7 L76.88,386.76 L77.56,384.87 L78.24,383.05 L78.93,381.3 L79.61,379.6 L80.29,377.97 L80.97,376.41 L81.65,374.9 L82.33,373.45 L83.02,372.07 L83.7,370.74 L84.38,369.47 L85.06,368.25 L85.74,367.09 L86.42,365.98 L87.11,364.91 L87.79,363.9 L88.47,362.94 L89.15,362.02 L89.83,361.14 L90.51,360.3 L91.2,359.51 L91.88,358.75 L92.56,358.03 L93.24,357.34 L93.92,356.69 L94.6,356.07 L95.29,355.48 L95.97,354.92 L96.65,354.38 L97.33,353.87 L99.15,352.64 L100.97,351.55 L102.78,350.61 L104.6,349.78 L106.42,349.05 L108.24,348.4 L110.05,347.84 L111.87,347.34 L113.69,346.9 L115.51,346.51 L117.32,346.16 L119.14,345.86 L120.96,345.58 L122.78,345.34 L124.59,345.12 L126.41,344.92 L128.23,344.75 L130.05,344.59 L131.87,344.44 L133.68,344.32 L135.5,344.2 L137.32,344.09 L139.14,344 L140.95,343.91 L142.77,343.83 L144.59,343.76 L146.41,343.69 L148.22,343.63 L150.04,343.58 L151.86,343.53 L153.68,343.48 L155.5,343.44 L157.31,343.4 L159.13,343.36 L160.95,343.33 L162.77,343.3 L164.58,343.27 L166.4,343.24 L168.22,343.22 L170.04,343.2 L171.85,343.17 L173.67,343.15 L175.49,343.14 L177.31,343.12 L179.12,343.1 L180.94,343.09 L182.76,343.07 L184.58,343.06 L186.4,343.05 L188.21,343.04 L190.03,343.03 L191.85,343.02 L193.67,343.01 L195.48,343 L197.3,342.99 L199.12,342.98 L200.94,342.98 L202.75,342.97 L204.57,342.96 L206.39,342.96 L211.84,342.94 L217.3,342.93 L222.75,342.91 L228.2,342.9 L233.65,342.89 L239.11,342.89 L244.56,342.88 L250.01,342.87 L255.47,342.87 L260.92,342.87 L266.37,342.86 L271.83,342.86 L277.28,342.86 L282.73,342.85 L288.18,342.85 L293.64,342.85 L299.09,342.85 L304.54,342.85 L310,342.84 L315.45,342.84"/>
<path stroke="#ff0000" d="M42.8,527.4 L43.07,525.94 L43.35,524.49 L43.62,523.03 L43.89,521.58 L44.16,520.12 L44.44,518.67 L44.71,517.21 L44.98,515.76 L45.25,514.3 L45.53,512.85 L45.8,511.39 L46.07,509.94 L46.34,508.48 L46.62,507.03 L46.89,505.57 L47.16,504.12 L47.44,502.66 L47.71,501.21 L47.98,499.75 L48.25,498.3 L48.53,496.84 L48.8,495.39 L49.07,493.93 L49.34,492.48 L49.62,491.02 L49.89,489.57 L50.16,488.12 L50.43,486.66 L50.71,485.21 L50.98,483.76 L51.25,482.31 L51.52,480.86 L51.8,479.41 L52.07,477.96 L52.34,476.51 L52.62,475.06 L52.89,473.61 L53.16,472.16 L53.43,470.72 L53.71,469.27 L54.39,465.67 L55.07,462.07 L55.75,458.48 L56.43,454.91 L57.11,451.35 L57.8,447.81 L58.48,444.3 L59.16,440.8 L59.84,437.34 L60.52,433.9 L61.2,430.5 L61.89,427.14 L62.57,423.82 L63.25,420.55 L63.93,417.33 L64.61,414.16 L65.29,411.06 L65.98,408.02 L66.66,405.05 L67.34,402.15 L68.02,399.32 L68.7,396.57 L69.38,393.91 L70.06,391.33 L70.75,388.83 L71.43,386.43 L72.11,384.11 L72.79,381.88 L73.47,379.75 L74.15,377.7 L74.84,375.74 L75.52,373.88 L76.2,372.1 L76.88,370.4 L77.56,368.79 L78.24,367.26 L78.93,365.81 L79.61,364.44 L80.29,363.14 L80.97,361.91 L81.65,360.75 L82.33,359.66 L83.02,358.62 L83.7,357.65 L84.38,356.73 L85.06,355.87 L85.74,355.06 L86.42,354.29 L87.11,353.57 L87.79,352.89 L88.47,352.25 L89.15,351.65 L89.83,351.09 L90.51,350.56 L91.2,350.06 L91.88,349.59 L92.56,349.15 L93.24,348.73 L93.92,348.34 L94.6,347.97 L95.29,347.62 L95.97,347.29 L96.65,346.98 L97.33,346.69 L99.15,345.99 L100.97,345.4 L102.78,344.88 L104.6,344.44 L106.42,344.05 L108.24,343.72 L110.05,343.43 L111.87,343.18 L113.69,342.96 L115.51,342.77 L117.32,342.6 L119.14,342.45 L120.96,342.31 L122.78,342.2 L124.59,342.09 L126.41,342 L128.23,341.92 L130.05,341.84 L131.87,341.78 L133.68,341.72 L135.5,341.66 L137.32,341.62 L139.14,341.57 L140.95,341.53 L142.77,341.5 L144.59,341.47 L146.41,341.44 L148.22,341.41 L150.04,341.38 L151.86,341.36 L153.68,341.34 L155.5,341.32 L157.31,341.31 L159.13,341.29 L160.95,341.27 L162.77,341.26 L164.58,341.25 L166.4,341.24 L168.22,341.23 L170.04,341.22 L171.85,341.21 L173.67,341.2 L175.49,341.19 L177.31,341.18 L179.12,341.18 L180.94,341.17 L182.76,341.17 L184.58,341.16 L186.4,341.15 L188.21,341.15 L190.03,341.15 L191.85,341.14 L193.67,341.14 L195.48,341.13 L197.3,341.13 L199.12,341.13 L200.94,341.12 L202.75,341.12 L204.57,341.12 L206.39,341.12 L211.84,341.11 L217.3,341.1 L222.75,341.1 L228.2,341.09 L233.65,341.09 L239.11,341.09 L244.56,341.09 L250.01,341.08 L255.47,341.08 L260.92,341.08 L266.37,341.08 L271.83,341.08 L277.28,341.08 L282.73,341.07 L288.18,341.07 L293.64,341.07 L299.09,341.07 L304.54,341.07 L310,341.07 L315.45,341.07"/>
<path stroke="#00ffff" d="M42.8,527.4 L43.07,525.69 L43.35,523.97 L43.62,522.26 L43.89,520.55 L44.16,518.83 L44.44,517.12 L44.71,515.41 L44.98,513.69 L45.25,511.98 L45.53,510.27 L45.8,508.56 L46.07,506.84 L46.34,505.13 L46.62,503.42 L46.89,501.7 L47.16,499.99 L47.44,498.28 L47.71,496.57 L47.98,494.86 L48.25,493.15 L48.53,491.44 L48.8,489.73 L49.07,488.02 L49.34,486.31 L49.62,484.6 L49.89,482.89 L50.16,481.19 L50.43,479.48 L50.71,477.78 L50.98,476.08 L51.25,474.38 L51.52,472.68 L51.8,470.99 L52.07,469.29 L52.34,467.6 L52.62,465.91 L52.89,464.22 L53.16,462.54 L53.43,460.86 L53.71,459.18 L54.39,455.01 L55.07,450.86 L55.75,446.75 L56.43,442.67 L57.11,438.63 L57.8,434.65 L58.48,430.72 L59.16,426.84 L59.84,423.04 L60.52,419.3 L61.2,415.65 L61.89,412.08 L62.57,408.6 L63.25,405.21 L63.93,401.93 L64.61,398.74 L65.29,395.67 L65.98,392.71 L66.66,389.86 L67.34,387.12 L68.02,384.5 L68.7,382 L69.38,379.61 L70.06,377.33 L70.75,375.17 L71.43,373.12 L72.11,371.17 L72.79,369.33 L73.47,367.59 L74.15,365.95 L74.84,364.4 L75.52,362.95 L76.2,361.58 L76.88,360.29 L77.56,359.08 L78.24,357.94 L78.93,356.87 L79.61,355.87 L80.29,354.93 L80.97,354.04 L81.65,353.22 L82.33,352.44 L83.02,351.71 L83.7,351.03 L84.38,350.39 L85.06,349.79 L85.74,349.23 L86.42,348.7 L87.11,348.2 L87.79,347.74 L88.47,347.3 L89.15,346.89 L89.83,346.51 L90.51,346.14 L91.2,345.8 L91.88,345.48 L92.56,345.18 L93.24,344.89 L93.92,344.62 L94.6,344.37 L95.29,344.13 L95.97,343.91 L96.65,343.7 L97.33,343.5 L99.15,343.01 L100.97,342.6 L102.78,342.24 L104.6,341.93 L106.42,341.65 L108.24,341.42 L110.05,341.21 L111.87,341.03 L113.69,340.86 L115.51,340.72 L117.32,340.59 L119.14,340.48 L120.96,340.38 L122.78,340.29 L124.59,340.21 L126.41,340.14 L128.23,340.08 L130.05,340.02 L131.87,339.97 L133.68,339.92 L135.5,339.88 L137.32,339.84 L139.14,339.8 L140.95,339.77 L142.77,339.74 L144.59,339.71 L146.41,339.69 L148.22,339.66 L150.04,339.64 L151.86,339.62 L153.68,339.61 L155.5,339.59 L157.31,339.57 L159.13,339.56 L160.95,339.55 L162.77,339.54 L164.58,339.53 L166.4,339.51 L168.22,339.51 L170.04,339.5 L171.85,339.49 L173.67,339.48 L175.49,339.47 L177.31,339.47 L179.12,339.46 L180.94,339.45 L182.76,339.45 L184.58,339.44 L186.4,339.44 L188.21,339.43 L190.03,339.43 L191.85,339.43 L193.67,339.42 L195.48,339.42 L197.3,339.41 L199.12,339.41 L200.94,339.41 L202.75,339.41 L204.57,339.4 L206.39,339.4 L211.84,339.39 L217.3,339.39 L222.75,339.38 L228.2,339.38 L233.65,339.37 L239.11,339.37 L244.56,339.37 L250.01,339.37 L255.47,339.36 L260.92,339.36 L266.37,339.36 L271.83,339.36 L277.28,339.36 L282.73,339.36 L288.18,339.36 L293.64,339.35 L299.09,339.35 L304.54,339.35 L310,339.35 L315.45,339.35"/>
</g>
<text class="t" x="42.8" y="549.4" text-anchor="middle">0</text>
<text class="t" x="179.12" y="549.4" text-anchor="middle">50</text>
<text class="t" x="315.45" y="549.4" text-anchor="middle">100</text>
<text class="t" x="37.6" y="534.3" text-anchor="end">0</text>
<text class="t" x="37.6" y="475.57" text-anchor="end">2</text>
<text class="t" x="37.6" y="416.83" text-anchor="end">4</text>
<text class="t" x="37.6" y="358.1" text-anchor="end">6</text>
<text class="t" y="336.15"><tspan class="tm" x="43.2" dy="2.6">×</tspan><tspan x="56.6" dy="-2.6">10</tspan><tspan x="75.3" dy="-8.6" font-size="12.6">4</tspan></text>
<text class="l" x="179.12" y="572.8" text-anchor="middle">T</text>
<text class="yl" transform="translate(19.5,433.42) rotate(-90)" text-anchor="middle">ℐ</text>
<rect class="lg" x="208.4" y="407.3" width="61.8" height="80.8"/>
<path class="ll" stroke="#0000ff" d="M211,418.25h25"/>
<text class="lt" x="238" y="424.15">0.03</text>
<path class="ll" stroke="#00ff00" d="M211,437.92h25"/>
<text class="lt" x="238" y="443.82">0.06</text>
<path class="ll" stroke="#ff0000" d="M211,457.59h25"/>
<text class="lt" x="238" y="463.49">0.09</text>
<path class="ll" stroke="#00ffff" d="M211,477.26h25"/>
<text class="lt" x="238" y="483.16">0.12</text>
<text class="cap" x="170.4" y="605.2" text-anchor="middle">(c)</text>
</g>
<g class="ax" id="ax-d">
<clipPath id="cp-d"><rect x="398.5" y="337.95" width="274.04999999999995" height="190.95"/></clipPath>
<rect class="box" x="399.5" y="339.45" width="272.04999999999995" height="187.95"/>
<path class="tk" d="M399.5,527.4v-3.2M399.5,339.45v3.2M535.5,527.4v-3.2M535.5,339.45v3.2M671.5,527.4v-3.2M671.5,339.45v3.2M399.5,527.5h3.2M671.55,527.5h-3.2M399.5,464.5h3.2M671.55,464.5h-3.2M399.5,402.5h3.2M671.55,402.5h-3.2M399.5,339.5h3.2M671.55,339.5h-3.2"/>
<g clip-path="url(#cp-d)" class="cv">
<path stroke="#0000ff" d="M399.5,527.4 L399.77,518.48 L400.04,511.67 L400.32,506.42 L400.59,502.29 L400.86,499 L401.13,496.31 L401.4,494.06 L401.68,492.14 L401.95,490.45 L402.22,488.94 L402.49,487.56 L402.76,486.27 L403.04,485.05 L403.31,483.88 L403.58,482.75 L403.85,481.65 L404.12,480.57 L404.4,479.5 L404.67,478.44 L404.94,477.4 L405.21,476.36 L405.49,475.33 L405.76,474.3 L406.03,473.28 L406.3,472.26 L406.57,471.24 L406.85,470.23 L407.12,469.22 L407.39,468.22 L407.66,467.21 L407.93,466.21 L408.21,465.22 L408.48,464.22 L408.75,463.23 L409.02,462.25 L409.29,461.26 L409.57,460.28 L409.84,459.31 L410.11,458.34 L410.38,457.37 L411.06,454.96 L411.74,452.58 L412.42,450.22 L413.1,447.9 L413.78,445.6 L414.46,443.33 L415.14,441.09 L415.82,438.88 L416.5,436.71 L417.18,434.56 L417.86,432.46 L418.54,430.38 L419.22,428.34 L419.9,426.34 L420.58,424.38 L421.26,422.45 L421.94,420.56 L422.62,418.7 L423.3,416.89 L423.98,415.11 L424.66,413.37 L425.34,411.66 L426.02,410 L426.7,408.37 L427.39,406.78 L428.07,405.23 L428.75,403.72 L429.43,402.24 L430.11,400.8 L430.79,399.4 L431.47,398.04 L432.15,396.71 L432.83,395.41 L433.51,394.15 L434.19,392.93 L434.87,391.74 L435.55,390.58 L436.23,389.46 L436.91,388.37 L437.59,387.31 L438.27,386.28 L438.95,385.29 L439.63,384.32 L440.31,383.38 L440.99,382.48 L441.67,381.6 L442.35,380.74 L443.03,379.92 L443.71,379.12 L444.39,378.35 L445.07,377.6 L445.75,376.87 L446.43,376.17 L447.11,375.5 L447.79,374.84 L448.47,374.21 L449.15,373.6 L449.83,373.01 L450.51,372.44 L451.19,371.89 L451.87,371.36 L452.55,370.85 L453.23,370.35 L453.91,369.87 L455.72,368.68 L457.54,367.6 L459.35,366.62 L461.16,365.73 L462.98,364.92 L464.79,364.19 L466.61,363.53 L468.42,362.94 L470.23,362.4 L472.05,361.92 L473.86,361.48 L475.67,361.09 L477.49,360.74 L479.3,360.42 L481.12,360.13 L482.93,359.87 L484.74,359.64 L486.56,359.43 L488.37,359.25 L490.18,359.08 L492,358.93 L493.81,358.79 L495.62,358.67 L497.44,358.56 L499.25,358.46 L501.07,358.37 L502.88,358.29 L504.69,358.22 L506.51,358.16 L508.32,358.1 L510.13,358.05 L511.95,358.01 L513.76,357.97 L515.57,357.93 L517.39,357.9 L519.2,357.87 L521.02,357.84 L522.83,357.82 L524.64,357.8 L526.46,357.78 L528.27,357.76 L530.08,357.75 L531.9,357.73 L533.71,357.72 L535.52,357.71 L537.34,357.7 L539.15,357.69 L540.97,357.68 L542.78,357.68 L544.59,357.67 L546.41,357.66 L548.22,357.66 L550.03,357.66 L551.85,357.65 L553.66,357.65 L555.48,357.64 L557.29,357.64 L559.1,357.64 L560.92,357.64 L562.73,357.64 L568.17,357.63 L573.61,357.63 L579.05,357.62 L584.49,357.62 L589.93,357.62 L595.38,357.62 L600.82,357.62 L606.26,357.62 L611.7,357.62 L617.14,357.62 L622.58,357.62 L628.02,357.62 L633.46,357.62 L638.9,357.62 L644.35,357.62 L649.79,357.62 L655.23,357.62 L660.67,357.62 L666.11,357.62 L671.55,357.62"/>
<path stroke="#00ff00" d="M399.5,527.4 L399.77,519 L400.04,512.07 L400.32,506.28 L400.59,501.38 L400.86,497.18 L401.13,493.52 L401.4,490.28 L401.68,487.37 L401.95,484.72 L402.22,482.28 L402.49,480 L402.76,477.84 L403.04,475.79 L403.31,473.82 L403.58,471.91 L403.85,470.07 L404.12,468.26 L404.4,466.5 L404.67,464.77 L404.94,463.07 L405.21,461.39 L405.49,459.74 L405.76,458.12 L406.03,456.51 L406.3,454.92 L406.57,453.35 L406.85,451.8 L407.12,450.27 L407.39,448.75 L407.66,447.26 L407.93,445.78 L408.21,444.31 L408.48,442.87 L408.75,441.44 L409.02,440.03 L409.29,438.63 L409.57,437.26 L409.84,435.89 L410.11,434.55 L410.38,433.22 L411.06,429.98 L411.74,426.85 L412.42,423.82 L413.1,420.89 L413.78,418.07 L414.46,415.34 L415.14,412.72 L415.82,410.19 L416.5,407.76 L417.18,405.43 L417.86,403.18 L418.54,401.03 L419.22,398.96 L419.9,396.97 L420.58,395.06 L421.26,393.24 L421.94,391.49 L422.62,389.81 L423.3,388.2 L423.98,386.67 L424.66,385.19 L425.34,383.78 L426.02,382.44 L426.7,381.15 L427.39,379.92 L428.07,378.74 L428.75,377.61 L429.43,376.54 L430.11,375.51 L430.79,374.52 L431.47,373.59 L432.15,372.69 L432.83,371.83 L433.51,371.01 L434.19,370.23 L434.87,369.49 L435.55,368.77 L436.23,368.09 L436.91,367.45 L437.59,366.83 L438.27,366.23 L438.95,365.67 L439.63,365.13 L440.31,364.61 L440.99,364.12 L441.67,363.65 L442.35,363.2 L443.03,362.78 L443.71,362.37 L444.39,361.98 L445.07,361.61 L445.75,361.25 L446.43,360.91 L447.11,360.59 L447.79,360.28 L448.47,359.98 L449.15,359.7 L449.83,359.43 L450.51,359.17 L451.19,358.93 L451.87,358.69 L452.55,358.47 L453.23,358.25 L453.91,358.05 L455.72,357.55 L457.54,357.1 L459.35,356.71 L461.16,356.36 L462.98,356.05 L464.79,355.78 L466.61,355.53 L468.42,355.32 L470.23,355.13 L472.05,354.96 L473.86,354.8 L475.67,354.67 L477.49,354.55 L479.3,354.44 L481.12,354.35 L482.93,354.26 L484.74,354.19 L486.56,354.12 L488.37,354.06 L490.18,354.01 L492,353.96 L493.81,353.92 L495.62,353.88 L497.44,353.84 L499.25,353.81 L501.07,353.78 L502.88,353.76 L504.69,353.74 L506.51,353.72 L508.32,353.7 L510.13,353.69 L511.95,353.67 L513.76,353.66 L515.57,353.65 L517.39,353.64 L519.2,353.63 L521.02,353.62 L522.83,353.61 L524.64,353.61 L526.46,353.6 L528.27,353.59 L530.08,353.59 L531.9,353.59 L533.71,353.58 L535.52,353.58 L537.34,353.58 L539.15,353.57 L540.97,353.57 L542.78,353.57 L544.59,353.57 L546.41,353.56 L548.22,353.56 L550.03,353.56 L551.85,353.56 L553.66,353.56 L555.48,353.56 L557.29,353.56 L559.1,353.55 L560.92,353.55 L562.73,353.55 L568.17,353.55 L573.61,353.55 L579.05,353.55 L584.49,353.55 L589.93,353.55 L595.38,353.55 L600.82,353.55 L606.26,353.55 L611.7,353.55 L617.14,353.55 L622.58,353.55 L628.02,353.55 L633.46,353.55 L638.9,353.55 L644.35,353.55 L649.79,353.55 L655.23,353.55 L660.67,353.55 L666.11,353.55 L671.55,353.55"/>
<path stroke="#ff0000" d="M399.5,527.4 L399.77,520.02 L400.04,513.38 L400.32,507.36 L400.59,501.89 L400.86,496.88 L401.13,492.28 L401.4,488.01 L401.68,484.05 L401.95,480.35 L402.22,476.87 L402.49,473.59 L402.76,470.48 L403.04,467.53 L403.31,464.71 L403.58,462.01 L403.85,459.42 L404.12,456.93 L404.4,454.53 L404.67,452.2 L404.94,449.95 L405.21,447.77 L405.49,445.65 L405.76,443.59 L406.03,441.59 L406.3,439.63 L406.57,437.73 L406.85,435.87 L407.12,434.06 L407.39,432.29 L407.66,430.57 L407.93,428.88 L408.21,427.23 L408.48,425.61 L408.75,424.04 L409.02,422.49 L409.29,420.99 L409.57,419.51 L409.84,418.07 L410.11,416.66 L410.38,415.28 L411.06,411.95 L411.74,408.81 L412.42,405.83 L413.1,403.02 L413.78,400.35 L414.46,397.83 L415.14,395.44 L415.82,393.18 L416.5,391.04 L417.18,389.02 L417.86,387.11 L418.54,385.3 L419.22,383.59 L419.9,381.97 L420.58,380.44 L421.26,378.99 L421.94,377.62 L422.62,376.32 L423.3,375.09 L423.98,373.93 L424.66,372.83 L425.34,371.79 L426.02,370.8 L426.7,369.87 L427.39,368.98 L428.07,368.14 L428.75,367.35 L429.43,366.59 L430.11,365.88 L430.79,365.2 L431.47,364.56 L432.15,363.95 L432.83,363.37 L433.51,362.82 L434.19,362.3 L434.87,361.81 L435.55,361.34 L436.23,360.89 L436.91,360.47 L437.59,360.07 L438.27,359.69 L438.95,359.32 L439.63,358.98 L440.31,358.65 L440.99,358.34 L441.67,358.04 L442.35,357.76 L443.03,357.49 L443.71,357.23 L444.39,356.99 L445.07,356.76 L445.75,356.54 L446.43,356.32 L447.11,356.12 L447.79,355.93 L448.47,355.75 L449.15,355.58 L449.83,355.41 L450.51,355.25 L451.19,355.1 L451.87,354.96 L452.55,354.82 L453.23,354.69 L453.91,354.57 L455.72,354.26 L457.54,353.99 L459.35,353.75 L461.16,353.54 L462.98,353.35 L464.79,353.18 L466.61,353.03 L468.42,352.9 L470.23,352.78 L472.05,352.68 L473.86,352.58 L475.67,352.5 L477.49,352.42 L479.3,352.36 L481.12,352.3 L482.93,352.24 L484.74,352.19 L486.56,352.15 L488.37,352.11 L490.18,352.08 L492,352.04 L493.81,352.02 L495.62,351.99 L497.44,351.97 L499.25,351.95 L501.07,351.93 L502.88,351.91 L504.69,351.9 L506.51,351.88 L508.32,351.87 L510.13,351.86 L511.95,351.85 L513.76,351.84 L515.57,351.83 L517.39,351.82 L519.2,351.81 L521.02,351.81 L522.83,351.8 L524.64,351.8 L526.46,351.79 L528.27,351.79 L530.08,351.78 L531.9,351.78 L533.71,351.78 L535.52,351.77 L537.34,351.77 L539.15,351.77 L540.97,351.77 L542.78,351.76 L544.59,351.76 L546.41,351.76 L548.22,351.76 L550.03,351.76 L551.85,351.76 L553.66,351.76 L555.48,351.75 L557.29,351.75 L559.1,351.75 L560.92,351.75 L562.73,351.75 L568.17,351.75 L573.61,351.75 L579.05,351.75 L584.49,351.75 L589.93,351.74 L595.38,351.74 L600.82,351.74 L606.26,351.74 L611.7,351.74 L617.14,351.74 L622.58,351.74 L628.02,351.74 L633.46,351.74 L638.9,351.74 L644.35,351.74 L649.79,351.74 L655.23,351.74 L660.67,351.74 L666.11,351.74 L671.55,351.74"/>
<path stroke="#00ffff" d="M399.5,527.4 L399.77,518.98 L400.04,511.18 L400.32,503.95 L400.59,497.23 L400.86,490.99 L401.13,485.18 L401.4,479.77 L401.68,474.71 L401.95,469.98 L402.22,465.56 L402.49,461.4 L402.76,457.5 L403.04,453.82 L403.31,450.36 L403.58,447.09 L403.85,444 L404.12,441.06 L404.4,438.28 L404.67,435.64 L404.94,433.13 L405.21,430.73 L405.49,428.44 L405.76,426.25 L406.03,424.16 L406.3,422.15 L406.57,420.22 L406.85,418.37 L407.12,416.59 L407.39,414.87 L407.66,413.22 L407.93,411.62 L408.21,410.08 L408.48,408.58 L408.75,407.14 L409.02,405.74 L409.29,404.38 L409.57,403.07 L409.84,401.79 L410.11,400.55 L410.38,399.35 L411.06,396.48 L411.74,393.8 L412.42,391.29 L413.1,388.93 L413.78,386.71 L414.46,384.63 L415.14,382.67 L415.82,380.82 L416.5,379.08 L417.18,377.43 L417.86,375.88 L418.54,374.42 L419.22,373.04 L419.9,371.74 L420.58,370.51 L421.26,369.36 L421.94,368.26 L422.62,367.23 L423.3,366.26 L423.98,365.35 L424.66,364.48 L425.34,363.67 L426.02,362.9 L426.7,362.17 L427.39,361.49 L428.07,360.85 L428.75,360.24 L429.43,359.67 L430.11,359.13 L430.79,358.62 L431.47,358.14 L432.15,357.69 L432.83,357.27 L433.51,356.86 L434.19,356.49 L434.87,356.13 L435.55,355.79 L436.23,355.48 L436.91,355.18 L437.59,354.9 L438.27,354.63 L438.95,354.38 L439.63,354.14 L440.31,353.92 L440.99,353.71 L441.67,353.51 L442.35,353.33 L443.03,353.15 L443.71,352.98 L444.39,352.83 L445.07,352.68 L445.75,352.54 L446.43,352.41 L447.11,352.28 L447.79,352.16 L448.47,352.05 L449.15,351.95 L449.83,351.85 L450.51,351.76 L451.19,351.67 L451.87,351.58 L452.55,351.51 L453.23,351.43 L453.91,351.36 L455.72,351.19 L457.54,351.05 L459.35,350.92 L461.16,350.81 L462.98,350.72 L464.79,350.64 L466.61,350.57 L468.42,350.51 L470.23,350.46 L472.05,350.41 L473.86,350.37 L475.67,350.34 L477.49,350.31 L479.3,350.28 L481.12,350.26 L482.93,350.24 L484.74,350.23 L486.56,350.21 L488.37,350.2 L490.18,350.19 L492,350.18 L493.81,350.17 L495.62,350.16 L497.44,350.16 L499.25,350.15 L501.07,350.15 L502.88,350.14 L504.69,350.14 L506.51,350.14 L508.32,350.13 L510.13,350.13 L511.95,350.13 L513.76,350.13 L515.57,350.12 L517.39,350.12 L519.2,350.12 L521.02,350.12 L522.83,350.12 L524.64,350.12 L526.46,350.12 L528.27,350.12 L530.08,350.12 L531.9,350.12 L533.71,350.12 L535.52,350.12 L537.34,350.12 L539.15,350.12 L540.97,350.12 L542.78,350.11 L544.59,350.11 L546.41,350.11 L548.22,350.11 L550.03,350.11 L551.85,350.11 L553.66,350.11 L555.48,350.11 L557.29,350.11 L559.1,350.11 L560.92,350.11 L562.73,350.11 L568.17,350.11 L573.61,350.11 L579.05,350.11 L584.49,350.11 L589.93,350.11 L595.38,350.11 L600.82,350.11 L606.26,350.11 L611.7,350.11 L617.14,350.11 L622.58,350.11 L628.02,350.11 L633.46,350.11 L638.9,350.11 L644.35,350.11 L649.79,350.11 L655.23,350.11 L660.67,350.11 L666.11,350.11 L671.55,350.11"/>
</g>
<text class="t" x="399.5" y="549.4" text-anchor="middle">0</text>
<text class="t" x="535.52" y="549.4" text-anchor="middle">50</text>
<text class="t" x="671.55" y="549.4" text-anchor="middle">100</text>
<text class="t" x="394.3" y="534.3" text-anchor="end">0</text>
<text class="t" x="394.3" y="471.65" text-anchor="end">1</text>
<text class="t" x="394.3" y="409" text-anchor="end">2</text>
<text class="t" x="394.3" y="346.35" text-anchor="end">3</text>
<text class="t" y="336.15"><tspan class="tm" x="399.9" dy="2.6">×</tspan><tspan x="413.3" dy="-2.6">10</tspan><tspan x="432" dy="-8.6" font-size="12.6">4</tspan></text>
<text class="l" x="535.52" y="572.8" text-anchor="middle">T</text>
<text class="yl" transform="translate(375.7,433.42) rotate(-90)" text-anchor="middle">ℱ</text>
<rect class="lg" x="574.1" y="431.2" width="61.5" height="80.8"/>
<path class="ll" stroke="#0000ff" d="M576.7,442.15h25"/>
<text class="lt" x="603.7" y="448.05">0.03</text>
<path class="ll" stroke="#00ff00" d="M576.7,461.82h25"/>
<text class="lt" x="603.7" y="467.72">0.06</text>
<path class="ll" stroke="#ff0000" d="M576.7,481.49h25"/>
<text class="lt" x="603.7" y="487.39">0.09</text>
<path class="ll" stroke="#00ffff" d="M576.7,501.16h25"/>
<text class="lt" x="603.7" y="507.06">0.12</text>
<text class="cap" x="527" y="605.2" text-anchor="middle">(d)</text>
</g>
<g class="ax" id="ax-e">
<clipPath id="cp-e"><rect x="220.4" y="639.95" width="274.1" height="190.94999999999993"/></clipPath>
<rect class="box" x="221.4" y="641.45" width="272.1" height="187.94999999999993"/>
<path class="tk" d="M221.5,829.4v-3.2M221.5,641.45v3.2M357.5,829.4v-3.2M357.5,641.45v3.2M493.5,829.4v-3.2M493.5,641.45v3.2M221.4,829.5h3.2M493.5,829.5h-3.2M221.4,791.5h3.2M493.5,791.5h-3.2M221.4,754.5h3.2M493.5,754.5h-3.2M221.4,716.5h3.2M493.5,716.5h-3.2M221.4,679.5h3.2M493.5,679.5h-3.2M221.4,641.5h3.2M493.5,641.5h-3.2"/>
<g clip-path="url(#cp-e)" class="cv">
<path stroke="#0000ff" d="M221.4,829.4 L221.67,829.4 L221.94,829.39 L222.22,829.38 L222.49,829.36 L222.76,829.33 L223.03,829.3 L223.3,829.26 L223.58,829.21 L223.85,829.16 L224.12,829.1 L224.39,829.03 L224.67,828.96 L224.94,828.88 L225.21,828.79 L225.48,828.7 L225.75,828.6 L226.03,828.49 L226.3,828.38 L226.57,828.26 L226.84,828.13 L227.11,827.99 L227.39,827.85 L227.66,827.71 L227.93,827.55 L228.2,827.4 L228.47,827.23 L228.75,827.06 L229.02,826.88 L229.29,826.7 L229.56,826.51 L229.84,826.31 L230.11,826.11 L230.38,825.9 L230.65,825.69 L230.92,825.47 L231.2,825.25 L231.47,825.02 L231.74,824.79 L232.01,824.55 L232.28,824.3 L232.96,823.67 L233.64,823 L234.32,822.31 L235,821.58 L235.69,820.83 L236.37,820.05 L237.05,819.25 L237.73,818.42 L238.41,817.57 L239.09,816.7 L239.77,815.8 L240.45,814.89 L241.13,813.95 L241.81,813 L242.49,812.03 L243.17,811.04 L243.85,810.04 L244.53,809.03 L245.21,808 L245.89,806.95 L246.57,805.9 L247.25,804.83 L247.93,803.75 L248.61,802.66 L249.29,801.57 L249.97,800.46 L250.65,799.35 L251.33,798.23 L252.01,797.1 L252.69,795.97 L253.37,794.83 L254.05,793.68 L254.73,792.53 L255.41,791.38 L256.09,790.23 L256.77,789.07 L257.45,787.91 L258.13,786.74 L258.81,785.58 L259.49,784.42 L260.17,783.25 L260.85,782.09 L261.53,780.92 L262.22,779.76 L262.9,778.59 L263.58,777.43 L264.26,776.27 L264.94,775.11 L265.62,773.96 L266.3,772.8 L266.98,771.65 L267.66,770.51 L268.34,769.36 L269.02,768.22 L269.7,767.09 L270.38,765.96 L271.06,764.83 L271.74,763.71 L272.42,762.59 L273.1,761.48 L273.78,760.37 L274.46,759.27 L275.14,758.17 L275.82,757.08 L277.63,754.2 L279.45,751.37 L281.26,748.58 L283.08,745.85 L284.89,743.16 L286.7,740.52 L288.52,737.94 L290.33,735.41 L292.15,732.93 L293.96,730.51 L295.77,728.15 L297.59,725.84 L299.4,723.59 L301.22,721.39 L303.03,719.24 L304.84,717.15 L306.66,715.12 L308.47,713.14 L310.29,711.21 L312.1,709.33 L313.91,707.51 L315.73,705.73 L317.54,704.01 L319.36,702.33 L321.17,700.7 L322.98,699.12 L324.8,697.59 L326.61,696.1 L328.43,694.66 L330.24,693.26 L332.05,691.9 L333.87,690.58 L335.68,689.3 L337.5,688.06 L339.31,686.87 L341.12,685.7 L342.94,684.58 L344.75,683.49 L346.57,682.43 L348.38,681.41 L350.19,680.42 L352.01,679.46 L353.82,678.54 L355.64,677.64 L357.45,676.78 L359.26,675.94 L361.08,675.12 L362.89,674.34 L364.71,673.58 L366.52,672.85 L368.33,672.14 L370.15,671.45 L371.96,670.79 L373.78,670.15 L375.59,669.53 L377.4,668.93 L379.22,668.35 L381.03,667.79 L382.85,667.25 L384.66,666.73 L390.1,665.27 L395.54,663.95 L400.99,662.76 L406.43,661.7 L411.87,660.73 L417.31,659.87 L422.75,659.09 L428.2,658.39 L433.64,657.76 L439.08,657.2 L444.52,656.69 L449.96,656.23 L455.41,655.82 L460.85,655.46 L466.29,655.13 L471.73,654.83 L477.17,654.56 L482.62,654.32 L488.06,654.11 L493.5,653.92"/>
<path stroke="#00ff00" d="M221.4,829.4 L221.67,829.4 L221.94,829.38 L222.22,829.36 L222.49,829.33 L222.76,829.29 L223.03,829.24 L223.3,829.18 L223.58,829.11 L223.85,829.03 L224.12,828.94 L224.39,828.85 L224.67,828.74 L224.94,828.62 L225.21,828.49 L225.48,828.36 L225.75,828.21 L226.03,828.05 L226.3,827.89 L226.57,827.72 L226.84,827.54 L227.11,827.35 L227.39,827.15 L227.66,826.94 L227.93,826.73 L228.2,826.5 L228.47,826.27 L228.75,826.03 L229.02,825.79 L229.29,825.54 L229.56,825.27 L229.84,825.01 L230.11,824.73 L230.38,824.45 L230.65,824.16 L230.92,823.86 L231.2,823.56 L231.47,823.25 L231.74,822.94 L232.01,822.62 L232.28,822.29 L232.96,821.45 L233.64,820.57 L234.32,819.66 L235,818.71 L235.69,817.74 L236.37,816.74 L237.05,815.71 L237.73,814.66 L238.41,813.58 L239.09,812.48 L239.77,811.36 L240.45,810.22 L241.13,809.07 L241.81,807.9 L242.49,806.71 L243.17,805.51 L243.85,804.29 L244.53,803.07 L245.21,801.83 L245.89,800.58 L246.57,799.33 L247.25,798.07 L247.93,796.8 L248.61,795.52 L249.29,794.24 L249.97,792.95 L250.65,791.66 L251.33,790.37 L252.01,789.07 L252.69,787.78 L253.37,786.48 L254.05,785.18 L254.73,783.88 L255.41,782.58 L256.09,781.29 L256.77,779.99 L257.45,778.7 L258.13,777.41 L258.81,776.12 L259.49,774.84 L260.17,773.56 L260.85,772.29 L261.53,771.02 L262.22,769.75 L262.9,768.49 L263.58,767.24 L264.26,765.99 L264.94,764.75 L265.62,763.52 L266.3,762.29 L266.98,761.07 L267.66,759.85 L268.34,758.65 L269.02,757.45 L269.7,756.26 L270.38,755.07 L271.06,753.9 L271.74,752.73 L272.42,751.57 L273.1,750.42 L273.78,749.28 L274.46,748.15 L275.14,747.03 L275.82,745.91 L277.63,742.98 L279.45,740.12 L281.26,737.32 L283.08,734.59 L284.89,731.93 L286.7,729.33 L288.52,726.81 L290.33,724.35 L292.15,721.95 L293.96,719.63 L295.77,717.36 L297.59,715.17 L299.4,713.03 L301.22,710.96 L303.03,708.95 L304.84,707 L306.66,705.11 L308.47,703.28 L310.29,701.51 L312.1,699.79 L313.91,698.12 L315.73,696.51 L317.54,694.95 L319.36,693.44 L321.17,691.98 L322.98,690.56 L324.8,689.19 L326.61,687.87 L328.43,686.59 L330.24,685.35 L332.05,684.16 L333.87,683 L335.68,681.88 L337.5,680.81 L339.31,679.76 L341.12,678.76 L342.94,677.78 L344.75,676.84 L346.57,675.93 L348.38,675.06 L350.19,674.21 L352.01,673.39 L353.82,672.6 L355.64,671.84 L357.45,671.11 L359.26,670.4 L361.08,669.71 L362.89,669.05 L364.71,668.41 L366.52,667.79 L368.33,667.2 L370.15,666.62 L371.96,666.07 L373.78,665.53 L375.59,665.02 L377.4,664.52 L379.22,664.04 L381.03,663.58 L382.85,663.13 L384.66,662.7 L390.1,661.49 L395.54,660.41 L400.99,659.43 L406.43,658.56 L411.87,657.78 L417.31,657.07 L422.75,656.44 L428.2,655.87 L433.64,655.36 L439.08,654.9 L444.52,654.49 L449.96,654.12 L455.41,653.79 L460.85,653.49 L466.29,653.22 L471.73,652.98 L477.17,652.77 L482.62,652.57 L488.06,652.4 L493.5,652.24"/>
<path stroke="#ff0000" d="M221.4,829.4 L221.67,829.39 L221.94,829.38 L222.22,829.35 L222.49,829.3 L222.76,829.25 L223.03,829.18 L223.3,829.09 L223.58,829 L223.85,828.89 L224.12,828.77 L224.39,828.63 L224.67,828.49 L224.94,828.33 L225.21,828.16 L225.48,827.98 L225.75,827.79 L226.03,827.58 L226.3,827.37 L226.57,827.15 L226.84,826.91 L227.11,826.67 L227.39,826.41 L227.66,826.15 L227.93,825.88 L228.2,825.59 L228.47,825.3 L228.75,825 L229.02,824.7 L229.29,824.38 L229.56,824.05 L229.84,823.72 L230.11,823.38 L230.38,823.03 L230.65,822.68 L230.92,822.32 L231.2,821.95 L231.47,821.57 L231.74,821.19 L232.01,820.8 L232.28,820.4 L232.96,819.39 L233.64,818.34 L234.32,817.26 L235,816.15 L235.69,815.01 L236.37,813.84 L237.05,812.65 L237.73,811.43 L238.41,810.2 L239.09,808.95 L239.77,807.68 L240.45,806.39 L241.13,805.09 L241.81,803.78 L242.49,802.46 L243.17,801.13 L243.85,799.78 L244.53,798.44 L245.21,797.08 L245.89,795.72 L246.57,794.35 L247.25,792.99 L247.93,791.61 L248.61,790.24 L249.29,788.87 L249.97,787.49 L250.65,786.12 L251.33,784.75 L252.01,783.38 L252.69,782.01 L253.37,780.65 L254.05,779.29 L254.73,777.93 L255.41,776.58 L256.09,775.23 L256.77,773.89 L257.45,772.55 L258.13,771.23 L258.81,769.9 L259.49,768.59 L260.17,767.28 L260.85,765.98 L261.53,764.69 L262.22,763.4 L262.9,762.13 L263.58,760.86 L264.26,759.6 L264.94,758.35 L265.62,757.11 L266.3,755.88 L266.98,754.66 L267.66,753.45 L268.34,752.25 L269.02,751.05 L269.7,749.87 L270.38,748.7 L271.06,747.54 L271.74,746.39 L272.42,745.24 L273.1,744.11 L273.78,742.99 L274.46,741.88 L275.14,740.78 L275.82,739.69 L277.63,736.84 L279.45,734.06 L281.26,731.35 L283.08,728.72 L284.89,726.16 L286.7,723.68 L288.52,721.27 L290.33,718.92 L292.15,716.65 L293.96,714.45 L295.77,712.31 L297.59,710.24 L299.4,708.23 L301.22,706.29 L303.03,704.4 L304.84,702.58 L306.66,700.81 L308.47,699.1 L310.29,697.45 L312.1,695.85 L313.91,694.3 L315.73,692.81 L317.54,691.36 L319.36,689.96 L321.17,688.6 L322.98,687.29 L324.8,686.03 L326.61,684.81 L328.43,683.62 L330.24,682.48 L332.05,681.38 L333.87,680.31 L335.68,679.28 L337.5,678.28 L339.31,677.32 L341.12,676.39 L342.94,675.49 L344.75,674.62 L346.57,673.78 L348.38,672.97 L350.19,672.19 L352.01,671.43 L353.82,670.7 L355.64,669.99 L357.45,669.31 L359.26,668.65 L361.08,668.01 L362.89,667.4 L364.71,666.8 L366.52,666.23 L368.33,665.68 L370.15,665.14 L371.96,664.62 L373.78,664.12 L375.59,663.64 L377.4,663.17 L379.22,662.72 L381.03,662.29 L382.85,661.87 L384.66,661.46 L390.1,660.32 L395.54,659.29 L400.99,658.36 L406.43,657.52 L411.87,656.77 L417.31,656.09 L422.75,655.47 L428.2,654.91 L433.64,654.41 L439.08,653.95 L444.52,653.54 L449.96,653.16 L455.41,652.83 L460.85,652.52 L466.29,652.24 L471.73,651.99 L477.17,651.77 L482.62,651.56 L488.06,651.37 L493.5,651.2"/>
<path stroke="#00ffff" d="M221.4,829.4 L221.67,829.38 L221.94,829.34 L222.22,829.27 L222.49,829.18 L222.76,829.07 L223.03,828.94 L223.3,828.79 L223.58,828.62 L223.85,828.44 L224.12,828.25 L224.39,828.04 L224.67,827.81 L224.94,827.57 L225.21,827.32 L225.48,827.06 L225.75,826.78 L226.03,826.49 L226.3,826.19 L226.57,825.88 L226.84,825.56 L227.11,825.23 L227.39,824.89 L227.66,824.54 L227.93,824.19 L228.2,823.82 L228.47,823.44 L228.75,823.06 L229.02,822.67 L229.29,822.27 L229.56,821.87 L229.84,821.45 L230.11,821.03 L230.38,820.61 L230.65,820.18 L230.92,819.74 L231.2,819.29 L231.47,818.84 L231.74,818.39 L232.01,817.93 L232.28,817.46 L232.96,816.28 L233.64,815.07 L234.32,813.83 L235,812.57 L235.69,811.29 L236.37,809.99 L237.05,808.67 L237.73,807.34 L238.41,805.99 L239.09,804.63 L239.77,803.27 L240.45,801.89 L241.13,800.51 L241.81,799.12 L242.49,797.72 L243.17,796.33 L243.85,794.92 L244.53,793.52 L245.21,792.12 L245.89,790.71 L246.57,789.31 L247.25,787.9 L247.93,786.5 L248.61,785.1 L249.29,783.71 L249.97,782.31 L250.65,780.93 L251.33,779.54 L252.01,778.17 L252.69,776.8 L253.37,775.43 L254.05,774.07 L254.73,772.72 L255.41,771.38 L256.09,770.04 L256.77,768.71 L257.45,767.39 L258.13,766.08 L258.81,764.77 L259.49,763.48 L260.17,762.19 L260.85,760.92 L261.53,759.65 L262.22,758.39 L262.9,757.14 L263.58,755.91 L264.26,754.68 L264.94,753.46 L265.62,752.25 L266.3,751.06 L266.98,749.87 L267.66,748.69 L268.34,747.53 L269.02,746.37 L269.7,745.23 L270.38,744.09 L271.06,742.97 L271.74,741.86 L272.42,740.75 L273.1,739.66 L273.78,738.58 L274.46,737.51 L275.14,736.45 L275.82,735.4 L277.63,732.65 L279.45,729.98 L281.26,727.38 L283.08,724.86 L284.89,722.41 L286.7,720.03 L288.52,717.71 L290.33,715.47 L292.15,713.29 L293.96,711.18 L295.77,709.14 L297.59,707.15 L299.4,705.23 L301.22,703.37 L303.03,701.56 L304.84,699.82 L306.66,698.12 L308.47,696.49 L310.29,694.9 L312.1,693.36 L313.91,691.88 L315.73,690.44 L317.54,689.05 L319.36,687.7 L321.17,686.39 L322.98,685.13 L324.8,683.91 L326.61,682.73 L328.43,681.59 L330.24,680.49 L332.05,679.42 L333.87,678.39 L335.68,677.39 L337.5,676.42 L339.31,675.49 L341.12,674.58 L342.94,673.71 L344.75,672.86 L346.57,672.05 L348.38,671.25 L350.19,670.49 L352.01,669.75 L353.82,669.04 L355.64,668.35 L357.45,667.68 L359.26,667.03 L361.08,666.41 L362.89,665.8 L364.71,665.22 L366.52,664.65 L368.33,664.11 L370.15,663.58 L371.96,663.07 L373.78,662.57 L375.59,662.1 L377.4,661.63 L379.22,661.19 L381.03,660.75 L382.85,660.34 L384.66,659.93 L390.1,658.8 L395.54,657.77 L400.99,656.84 L406.43,656 L411.87,655.24 L417.31,654.55 L422.75,653.92 L428.2,653.36 L433.64,652.84 L439.08,652.38 L444.52,651.95 L449.96,651.57 L455.41,651.22 L460.85,650.91 L466.29,650.62 L471.73,650.36 L477.17,650.12 L482.62,649.91 L488.06,649.71 L493.5,649.54"/>
</g>
<text class="t" x="221.4" y="851.2" text-anchor="middle">0</text>
<text class="t" x="357.45" y="851.2" text-anchor="middle">50</text>
<text class="t" x="493.5" y="851.2" text-anchor="middle">100</text>
<text class="t" x="216.2" y="836.3" text-anchor="end">0</text>
<text class="t" x="216.2" y="798.71" text-anchor="end">1</text>
<text class="t" x="216.2" y="761.12" text-anchor="end">2</text>
<text class="t" x="216.2" y="723.53" text-anchor="end">3</text>
<text class="t" x="216.2" y="685.94" text-anchor="end">4</text>
<text class="t" x="216.2" y="648.35" text-anchor="end">5</text>
<text class="t" y="638.15"><tspan class="tm" x="221.8" dy="2.6">×</tspan><tspan x="235.2" dy="-2.6">10</tspan><tspan x="253.9" dy="-8.6" font-size="12.6">5</tspan></text>
<text class="l" x="357.45" y="874.7" text-anchor="middle">T</text>
<text class="yl" transform="translate(197.8,735.42) rotate(-90)" text-anchor="middle">ℰ</text>
<rect class="lg" x="409.0" y="716.9" width="61.8" height="81.0"/>
<path class="ll" stroke="#0000ff" d="M411.6,727.85h25"/>
<text class="lt" x="438.6" y="733.75">0.03</text>
<path class="ll" stroke="#00ff00" d="M411.6,747.52h25"/>
<text class="lt" x="438.6" y="753.42">0.06</text>
<path class="ll" stroke="#ff0000" d="M411.6,767.19h25"/>
<text class="lt" x="438.6" y="773.09">0.09</text>
<path class="ll" stroke="#00ffff" d="M411.6,786.86h25"/>
<text class="lt" x="438.6" y="792.76">0.12</text>
<text class="cap" x="349" y="907.2" text-anchor="middle">(e)</text>
</g>
</svg>
</body></html>
